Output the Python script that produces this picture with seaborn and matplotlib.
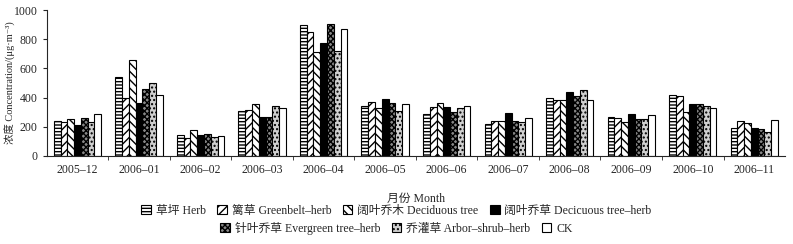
import numpy as np
import pandas as pd
import matplotlib
matplotlib.use("Agg")
import matplotlib.pyplot as plt
import seaborn as sns
from matplotlib.patches import Patch

# données
months = ["2005–12", "2006–01", "2006–02", "2006–03", "2006–04", "2006–05",
          "2006–06", "2006–07", "2006–08", "2006–09", "2006–10", "2006–11"]
series = ["草坪 Herb", "篱草 Greenbelt–herb", "阔叶乔木 Deciduous tree",
          "阔叶乔草 Decicuous tree–herb", "针叶乔草 Evergreen tree–herb",
          "乔灌草 Arbor–shrub–herb", "CK"]

herb       = [237, 543, 140, 305, 900, 345, 288, 219, 395, 264, 418, 193]
greenbelt  = [230, 398, 122, 317, 850, 370, 336, 237, 381, 257, 411, 239]
deciduous  = [255, 655, 179, 356, 714, 329, 363, 237, 381, 232, 303, 225]
dec_herb   = [210, 363, 140, 267, 775, 391, 336, 294, 441, 287, 356, 193]
evergreen  = [260, 460, 150, 267, 903, 363, 301, 237, 409, 253, 356, 186]
arbor      = [233, 502, 129, 340, 722, 306, 329, 232, 450, 253, 343, 163]
ck         = [288, 415, 136, 329, 868, 357, 343, 260, 381, 278, 329, 248]

values = [herb, greenbelt, deciduous, dec_herb, evergreen, arbor, ck]

# style des barres : (couleur de fond, hachure)
styles = [("white", "-----"), ("white", "////"), ("white", "\\\\\\\\"),
          ("black", ""), ("#888888", "xxxxxx"), ("#d0d0d0", "...."),
          ("white", "")]

rows = []
for name, vals in zip(series, values):
    for m, v in zip(months, vals):
        rows.append({"Month": m, "Series": name, "Value": v})
df = pd.DataFrame(rows)

sns.set_style("ticks")
plt.rcParams["font.family"] = ["Liberation Serif", "Noto Sans CJK SC", "DejaVu Serif"]
plt.rcParams["hatch.linewidth"] = 1.0

fig = plt.figure(figsize=(7.93, 2.44), dpi=100)
ax = fig.add_axes([0.059, 0.361, 0.931, 0.598])

sns.barplot(data=df, x="Month", y="Value", hue="Series", order=months,
            hue_order=series, width=0.77, ax=ax, legend=False,
            edgecolor="black", linewidth=0.8)

for cont, (fc, h) in zip(ax.containers, styles):
    for p in cont:
        p.set_facecolor(fc)
        p.set_hatch(h)
        p.set_edgecolor("black")

ax.set_xlim(-0.5, len(months) - 0.5)
ax.set_ylim(0, 1000)
ax.set_yticks(range(0, 1001, 200))
ax.set_xticks(np.arange(len(months) - 1) + 0.5, minor=True)
ax.tick_params(axis="x", which="major", length=0, labelsize=8.5, pad=6)
ax.tick_params(axis="x", which="minor", length=3, direction="out")
ax.tick_params(axis="y", labelsize=8.5, length=3)
sns.despine(ax=ax)
for s in ["left", "bottom"]:
    ax.spines[s].set_linewidth(0.8)

ax.set_xlabel("月份 Month", fontsize=8.5, labelpad=12)
ax.set_ylabel("浓度 Concentration/(μg·m⁻³)", fontsize=7.5)
ax.yaxis.set_label_coords(-0.042, 0.5)

handles = [Patch(facecolor=fc, edgecolor="black", hatch=h, linewidth=0.8)
           for fc, h in styles]
kw = dict(frameon=False, fontsize=8.5, handlelength=0.8, handleheight=0.8,
          handletextpad=0.4, columnspacing=1.0, borderaxespad=0)
leg1 = fig.legend(handles[:4], series[:4], ncol=4, loc="center",
                  bbox_to_anchor=(0.5, 0.135), **kw)
leg2 = fig.legend(handles[4:], series[4:], ncol=3, loc="center",
                  bbox_to_anchor=(0.5, 0.065), **kw)

fig.savefig("out.png", dpi=100)
